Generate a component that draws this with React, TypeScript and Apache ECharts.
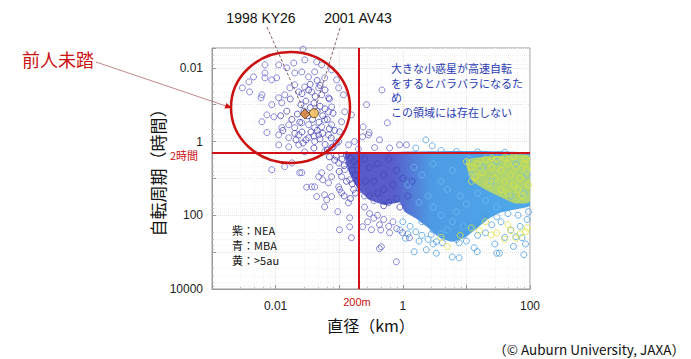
import React, { useEffect, useRef } from 'react';
import * as echarts from 'echarts';

// [diameter km, rotation period h]
const neaPoints: [number, number][] = [
  [0.0068,0.0083],[0.0045,0.0176],[0.0038,0.024],[0.003,0.035],[0.0039,0.045],[0.0061,0.054],[0.0059,0.065],
  [0.0068,0.0138],[0.0068,0.0187],[0.0104,0.0187],[0.0087,0.0212],[0.0112,0.0083],[0.015,0.01],[0.0193,0.0074],
  [0.0287,0.0061],[0.0442,0.0069],[0.053,0.0083],[0.076,0.0114],[0.02,0.0138],[0.0258,0.0129],[0.033,0.0176],
  [0.0411,0.0129],[0.059,0.0187],[0.091,0.0212],[0.098,0.035],[0.117,0.054],[0.122,0.156],[0.109,0.29],
  [0.101,0.54],[0.098,1.0],[0.076,1.46],[0.059,1.9],[0.0073,0.57],[0.0061,0.29],[0.0073,0.189],
  [0.0094,0.214],[0.0087,0.1],[0.0112,0.065],[0.0125,0.089],[0.0139,0.054],[0.0167,0.035],[0.02,0.029],
  [0.0231,0.045],[0.0287,0.033],[0.0369,0.045],[0.0475,0.035],[0.053,0.054],[0.068,0.065],[0.076,0.115],
  [0.068,0.156],[0.059,0.258],[0.053,0.4],[0.0411,0.42],[0.033,0.35],[0.0258,0.31],[0.02,0.42],[0.0161,0.35],
  [0.0125,0.42],[0.0112,0.66],[0.0161,0.79],[0.0231,0.66],[0.033,0.79],[0.0411,1.0],[0.0231,1.23],[0.0161,1.39],
  [0.0112,1.23],[0.0287,1.9],[0.0475,0.66],[0.068,0.66],[0.076,0.35],[0.027,0.0031],
  [0.269,0.1],[0.238,0.4],[0.289,0.66],[0.156,0.189],[0.174,1.0],[0.14,1.23],[0.47,0.04],[0.57,0.31],
  [0.296,0.57],[0.233,0.74],[0.43,0.9],[0.89,1.23],[1.14,1.23],[0.2,1.6],[0.36,1.46],[0.62,1.5],
  [0.0087,5.8],[0.0258,7.0],[0.0369,16.9],[0.0442,31],[0.059,59],[0.0635,38],[0.076,31],[0.101,247],
  [0.146,205],[0.156,406],[0.068,13.2],[0.098,16.9],[0.109,24.5],[0.0475,9.0],[0.053,7.0],[0.076,9.0],
  [0.109,9.0],[0.122,5.8],[0.14,3.8],[0.098,3.8],[0.071,5.0],[0.146,10.9],[0.168,20],[0.14,46],[0.018,3.8],
  [0.0139,4.8],[0.0308,17.3],[0.0411,16.9],[0.059,27.8],[0.095,80],[0.146,117],[0.101,20],[0.055,10.9],
  [0.0239,7.0],[0.233,205],[0.322,247],[0.43,181],[0.46,713],[0.79,1820],[0.62,298],[0.99,298],[1.27,406],
  [0.43,800],[0.25,60],[0.3,90],[0.35,120],[0.28,150],[0.4,100],[0.5,130],[0.6,200],[0.45,250],[0.7,150],
  [0.8,230],[0.35,40],[0.25,30],[0.22,20]
];

const neaDense: [number, number][] = [
  [0.025,0.1],[0.03,0.08],[0.035,0.12],[0.04,0.09],[0.045,0.15],[0.05,0.11],[0.055,0.2],[0.06,0.13],
  [0.032,0.2],[0.028,0.15],[0.022,0.18],[0.038,0.25],[0.042,0.06],[0.048,0.3],[0.065,0.25],[0.07,0.45],
  [0.055,0.6],[0.045,0.5],[0.036,0.55],[0.026,0.55],[0.03,0.9],[0.05,0.85],[0.06,1.2],[0.04,1.5],[0.02,0.6],
  [0.018,0.25],[0.015,0.15],[0.012,0.2],[0.033,0.04],[0.026,0.05],[0.06,0.04],[0.07,0.07],[0.08,0.17],
  [0.085,0.5],[0.075,0.8],[0.09,1.1],[0.024,0.3],[0.017,0.07],[0.05,0.03],[0.045,0.022],[0.035,0.028],
  [0.065,1.7],[0.08,1.4],[0.027,1.1],[0.021,0.9],[0.013,0.5],[0.04,0.7],
  [0.09,2.5],[0.11,3],[0.13,2.3],[0.15,2.8],[0.17,3.5],[0.12,4.5],[0.16,6],[0.18,8],[0.1,6.5],[0.13,12],
  [0.16,14],[0.18,25],[0.12,30],[0.15,35],[0.085,3.2],[0.07,2.6],[0.19,4.2],[0.19,12],
  [0.25,3],[0.3,5],[0.4,4],[0.5,8],[0.6,3],[0.8,6],[0.35,12],[0.5,20],[0.7,15],[1.0,10],[0.8,35],[0.4,25],
  [0.3,30],[0.6,45],[0.9,60],[1.2,30],[1.4,12],[0.26,12],[0.5,55]
];

const mbaPoints: [number, number][] = [
  [2.3,0.9],[2.9,1.3],[1.6,1.5],[4,1.75],[7,1.85],[15,1.9],[40,1.95],
  [1.51,973],[2.34,860],[3.37,1070],[6.0,1350],[7.7,1420],[30,1070],[80,1170],[14.8,973],[13.2,760],
  [60,382],[75,406],[7.7,556],[4.2,556],[3.37,521],[33,1070],
  [1.0,150],[1.3,200],[1.6,280],[2.0,350],[1.2,320],[0.9,250],[2.5,450],[3,600],[1.8,500],[1.1,420],
  [12,150],[18,120],[25,180],[35,150],[50,250],[70,200],[90,130],[20,300],[40,400],[15,350],[10,500],
  [28,600],[55,700],[85,600],
  [2,150],[3,250],[4,200],[6,300],[8,180],[10,250],[14,170],[20,90],[30,110],[45,90],[65,100],[95,80],
  [3.5,160],[5,380],[7,450],[2.8,330]
];

const mbaDense: [number, number][] = [
  [1.5,5],[2,8],[3,4],[4,12],[5,20],[6,6],[8,30],[10,50],[12,8],[15,25],[3,60],[4,100],[6,150],[2.5,30],
  [7,80],[20,40],[25,12],[30,60],[50,30],[80,25],[1.2,15],[1.8,45],[9,200],[5,250],[4,320],[11,3],[18,5],
  [30,3.5],[60,4],[90,8]
];

const outerPoints: [number, number][] = [
  [10,3.5],[12,5],[15,4],[18,7],[20,3],[25,5],[28,10],[30,3],[35,6],[40,12],[45,4],[50,8],[55,15],[60,5],
  [70,10],[80,4],[90,6],[65,20],[35,20],[22,14],[14,9],[95,15],[45,25],[75,30],[12,12],[25,2.8],[55,2.6],
  [85,3],[40,2.7],[24.5,340],[30,300],[50,260],[70,320],[85,280],[60,420],[40,450],[5,700],[8,350],[12,220],
  [16,260],[4,400],[20,150],[45,180],[90,220]
];

// dense-cloud outlines [diameter km, period h]
const denseCloud: [number, number][] = [
  [0.123,2.1],[100,2.1],[100,55],[58,70],[34,85],[23.5,117],[15,218],[9.5,406],[5.9,521],[3.8,406],
  [2.5,218],[1.55,117],[1.07,80],[0.9,45],[0.52,53],[0.3,38],[0.2,20],[0.148,8],[0.13,4]
];
const yellowCloud: [number, number][] = [
  [10,3.2],[30,2.5],[100,2.5],[100,42],[60,48],[40,36],[22,22],[12,11]
];

const ky26: [number, number] = [0.029, 0.18];
const av43: [number, number] = [0.04, 0.17];

const xTickValues = [0.01, 1, 100];
const xTickLabels = ['0.01', '1', '100'];
const yTickValues = [0.01, 1, 100, 10000];
const yTickLabels = ['0.01', '1', '100', '10000'];

const barrierDiameter = 0.2;
const barrierPeriod = 2;

const noteLines = ['大きな小惑星が高速自転', 'をするとバラバラになるた', 'め', 'この領域には存在しない'];
const legendLines = ['紫：NEA', '青：MBA', '黄：>5au'];

const FONT = '"Liberation Sans", "Noto Sans CJK JP", sans-serif';
const JP = '"Noto Sans CJK JP", sans-serif';

function tickLabel(values: number[], labels: string[]) {
  return (v: number) => {
    for (let i = 0; i < values.length; i++) {
      if (Math.abs(Math.log10(v) - Math.log10(values[i])) < 1e-6) return labels[i];
    }
    return '';
  };
}

function cloud(pts: [number, number][], fill: any, opacity: number, smooth: number) {
  return {
    type: 'custom',
    coordinateSystem: 'cartesian2d',
    silent: true,
    clip: true,
    data: [pts[0]],
    renderItem: (_p: any, api: any) => ({
      type: 'polygon',
      shape: { points: pts.map((p) => api.coord(p)), smooth },
      style: { fill, opacity },
    }),
  };
}

function ring(data: [number, number][], color: string) {
  return {
    type: 'scatter',
    data,
    symbol: 'circle',
    symbolSize: 6,
    silent: true,
    itemStyle: { color: 'rgba(0,0,0,0)', borderColor: color, borderWidth: 1 },
  };
}

export default function App() {
  const ref = useRef<HTMLDivElement>(null);
  useEffect(() => {
    if (!ref.current) return;
    const chart = echarts.init(ref.current, undefined, { renderer: 'svg' });
    const axisCommon = {
      axisLine: { show: true, lineStyle: { color: '#999', width: 1 } },
      axisTick: { show: true, inside: true, length: 4, lineStyle: { color: '#999' } },
      minorTick: { show: true, splitNumber: 5, length: 2, lineStyle: { color: '#bbb' } },
      splitLine: { show: true, lineStyle: { color: '#e2e2e2', type: 'dotted' } },
      minorSplitLine: { show: true, lineStyle: { color: '#f3f3f3', type: 'dotted' } },
    };
    const gradient = new echarts.graphic.LinearGradient(0, 0, 1, 0, [
      { offset: 0, color: '#4a4ac0' },
      { offset: 0.26, color: '#4a50c6' },
      { offset: 0.46, color: '#3e92e2' },
      { offset: 1, color: '#3fa3e8' },
    ]);
    const texts: any[] = [];
    noteLines.forEach((t, i) => {
      texts.push({ type: 'text', z: 100, silent: true, style: { text: t, x: 391, y: 68 + i * 14.6, fill: '#2a3cb4', fontSize: 11, fontFamily: JP, verticalAlign: 'middle' } });
    });
    legendLines.forEach((t, i) => {
      texts.push({ type: 'text', z: 100, silent: true, style: { text: t, x: 232, y: 229.5 + i * 15, fill: '#111', fontSize: 11, fontFamily: JP, verticalAlign: 'middle' } });
    });
    chart.setOption({
      animation: false,
      backgroundColor: '#fff',
      grid: { left: 212, top: 48, width: 318, height: 241, show: true, borderColor: '#999', borderWidth: 1, backgroundColor: '#fff' },
      xAxis: {
        type: 'log', logBase: 10, min: 0.001, max: 100,
        ...axisCommon,
        axisLabel: { margin: 11, fontSize: 12, color: '#222', fontFamily: FONT, formatter: tickLabel(xTickValues, xTickLabels) },
        name: '直径（km）', nameLocation: 'middle', nameGap: 24,
        nameTextStyle: { fontSize: 16, color: '#111', fontFamily: JP },
      },
      yAxis: {
        type: 'log', logBase: 10, min: 0.0029, max: 10000, inverse: true,
        ...axisCommon,
        axisLabel: { margin: 9, fontSize: 12, color: '#222', fontFamily: FONT, formatter: tickLabel(yTickValues, yTickLabels) },
        name: '自転周期（時間）', nameLocation: 'middle', nameGap: 37, nameRotate: 90,
        nameTextStyle: { fontSize: 17, color: '#111', fontFamily: JP },
      },
      series: [
        cloud(denseCloud, gradient, 0.92, 0.12),
        cloud(yellowCloud, '#d6e644', 0.72, 0.2),
        ring(mbaDense, '#72bcf2'),
        ring(mbaPoints, '#4a9de2'),
        ring(outerPoints, '#e2e63a'),
        ring(neaPoints, '#6a6ad0'),
        ring(neaDense, '#4343b8'),
        {
          type: 'scatter',
          z: 10,
          silent: true,
          data: [
            { value: ky26, symbol: 'diamond', symbolSize: 10, itemStyle: { color: '#d97a2a', borderColor: '#4a2a10', borderWidth: 1 } },
            { value: av43, symbol: 'circle', symbolSize: 9, itemStyle: { color: '#f3b84c', borderColor: '#5a4010', borderWidth: 1 } },
          ],
          markLine: {
            silent: true,
            symbol: ['none', 'none'],
            label: { show: false },
            lineStyle: { color: '#d2101a', width: 2, type: 'solid' },
            data: [{ xAxis: barrierDiameter }, { yAxis: barrierPeriod }],
          },
        },
      ],
      graphic: [
        { type: 'ellipse', z: 100, silent: true, shape: { cx: 290.5, cy: 107.5, rx: 59.5, ry: 55.5 }, style: { fill: 'none', stroke: '#cc1111', lineWidth: 2.5 } },
        { type: 'line', z: 100, silent: true, shape: { x1: 96, y1: 62, x2: 226, y2: 106 }, style: { stroke: '#b06a6a', lineWidth: 0.8 } },
        { type: 'polygon', z: 100, silent: true, shape: { points: [[232, 108], [224.4, 108.6], [226.4, 102.9]] }, style: { fill: '#cc1111' } },
        { type: 'text', z: 100, silent: true, style: { text: '前人未踏', x: 22, y: 59, fill: '#cc1111', fontSize: 18, fontFamily: JP, verticalAlign: 'middle' } },
        { type: 'line', z: 100, silent: true, shape: { x1: 267, y1: 27, x2: 304, y2: 111 }, style: { stroke: '#6a3a3a', lineWidth: 0.8, lineDash: [3, 2] } },
        { type: 'line', z: 100, silent: true, shape: { x1: 340, y1: 28, x2: 315, y2: 110 }, style: { stroke: '#6a3a3a', lineWidth: 0.8, lineDash: [3, 2] } },
        { type: 'text', z: 100, silent: true, style: { text: '1998 KY26', x: 261, y: 18, fill: '#111', fontSize: 14, fontFamily: FONT, align: 'center', verticalAlign: 'middle' } },
        { type: 'text', z: 100, silent: true, style: { text: '2001 AV43', x: 358, y: 18, fill: '#111', fontSize: 14, fontFamily: FONT, align: 'center', verticalAlign: 'middle' } },
        ...texts,
        { type: 'text', z: 100, silent: true, style: { text: '2時間', x: 198, y: 155, fill: '#cc1111', fontSize: 11, fontFamily: JP, align: 'right', verticalAlign: 'middle' } },
        { type: 'text', z: 100, silent: true, style: { text: '200m', x: 357, y: 302, fill: '#cc1111', fontSize: 11, fontFamily: FONT, align: 'center', verticalAlign: 'middle' } },
        { type: 'text', z: 100, silent: true, style: { text: '（© Auburn University, JAXA）', x: 685, y: 349, fill: '#111', fontSize: 13.5, fontFamily: JP, align: 'right', verticalAlign: 'middle' } },
      ],
    });
    return () => chart.dispose();
  }, []);
  return <div ref={ref} style={{ position: 'fixed', left: 0, top: 0, width: 691, height: 359, background: '#fff' }} />;
}
